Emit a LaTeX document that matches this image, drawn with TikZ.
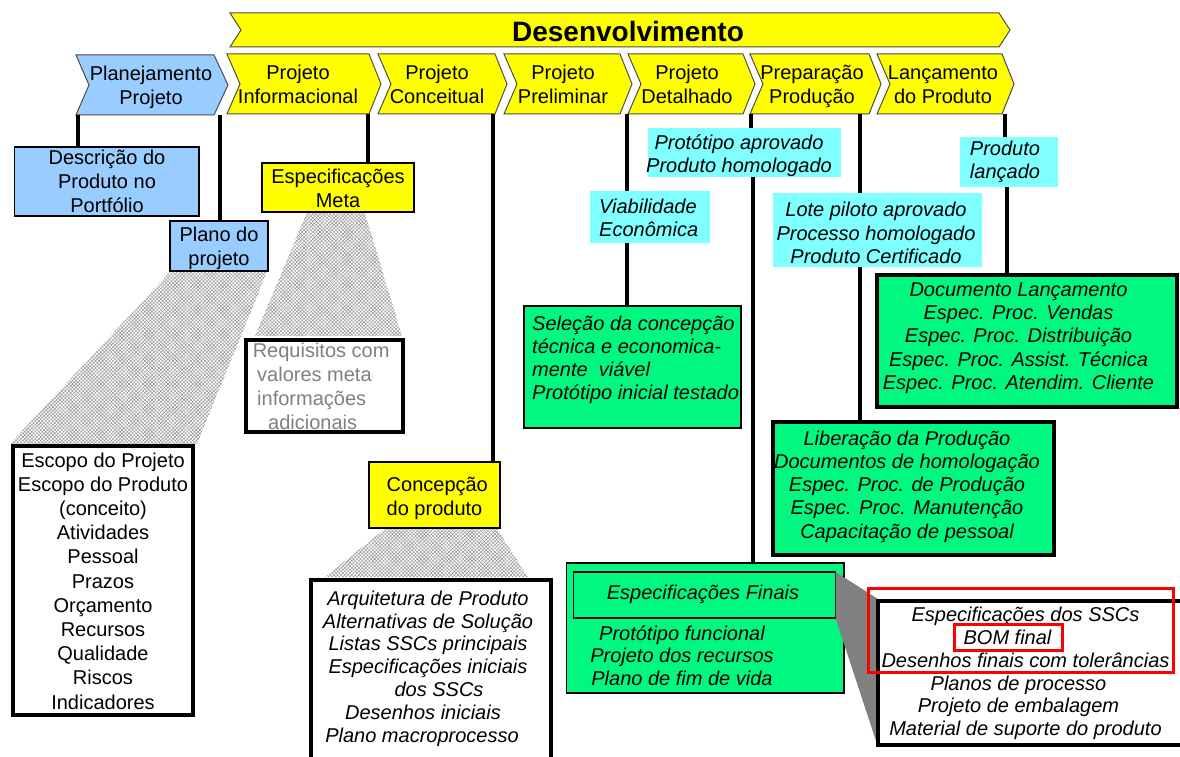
\documentclass[tikz,border=0pt]{standalone}
\usepackage{fontspec}
\setmainfont{Liberation Sans}
\usetikzlibrary{patterns.meta}
\definecolor{phaseblue}{HTML}{99CCFF}
\definecolor{phaseyellow}{HTML}{FFFF00}
\definecolor{gatecyan}{HTML}{7FFFFF}
\definecolor{outgreen}{HTML}{00F880}
\definecolor{reqgray}{HTML}{808080}
\definecolor{fangray}{HTML}{808080}
\newcommand\padright[1]{\rule{#1}{0pt}}
\begin{document}
\begin{tikzpicture}[x=1pt,y=-1pt,
  chev/.style={draw=black!70,line width=1pt,line join=miter},
  chevtxt/.style={font=\fontsize{20}{24.5}\selectfont,align=center,inner sep=0pt},
  box/.style={anchor=north west,inner sep=0pt,outer sep=0pt},
  thinbox/.style={box,draw=black,line width=1.5pt},
  thickbox/.style={box,draw=black,line width=4pt},
  gate/.style={box,fill=gatecyan},
  conn/.style={line width=4pt},
  txt/.style={font=\fontsize{20}{24}\selectfont,align=center,inner sep=0pt},
  itxt/.style={font=\fontsize{20}{23.2}\selectfont\itshape,align=center,inner sep=0pt},
  hatchfan/.style={pattern={Hatch[angle=45,distance=2.5pt,line width=0.45pt]},pattern color=black!42},
  redmark/.style={box,draw=red,line width=3pt},
]
\useasboundingbox (0,0) rectangle (1180,757);
\fill[white] (0,0) rectangle (1180,757);

% ---- development banner ----
\filldraw[chev,fill=phaseyellow] (230,13) -- (999,13) -- (1010,30) -- (999,47) -- (230,47) -- (241,30) -- cycle;
\node[font=\fontsize{28}{30}\selectfont\bfseries,inner sep=0pt] (devt) at (628,31) {Desenvolvimento};

% ---- phase chevrons ----
\filldraw[chev,fill=phaseblue] (76,55) -- (214,55) -- (228,85) -- (214,115) -- (76,115) -- (89,85) -- cycle;
\node[chevtxt] (plan) at (151,87.5) {Planejamento\\Projeto};
\filldraw[chev,fill=phaseyellow] (227,54) -- (369,54) -- (381,84) -- (369,114) -- (227,114) -- (240,84) -- cycle;
\node[chevtxt] (info) at (298,84.5) {Projeto\\Informacional};
\filldraw[chev,fill=phaseyellow] (378,54) -- (495,54) -- (507,84) -- (495,114) -- (378,114) -- (391,84) -- cycle;
\node[chevtxt] (conc) at (437,84.5) {Projeto\\Conceitual};
\filldraw[chev,fill=phaseyellow] (504,54) -- (620,54) -- (632,84) -- (620,114) -- (504,114) -- (517,84) -- cycle;
\node[chevtxt] (prel) at (563,84.5) {Projeto\\Preliminar};
\filldraw[chev,fill=phaseyellow] (628,54) -- (743,54) -- (755,84) -- (743,114) -- (628,114) -- (641,84) -- cycle;
\node[chevtxt] (det) at (687,84.5) {Projeto\\Detalhado};
\filldraw[chev,fill=phaseyellow] (750,54) -- (869,54) -- (881,84) -- (869,114) -- (750,114) -- (763,84) -- cycle;
\node[chevtxt] (prep) at (812,86.5) {Preparação\\Produção};
\filldraw[chev,fill=phaseyellow] (877,54) -- (1002,54) -- (1014,84) -- (1002,114) -- (877,114) -- (890,84) -- cycle;
\node[chevtxt] (lanc) at (943,84.5) {Lançamento\\do Produto};
% bottom edges of the chevron row
\coordinate (planbase) at (0,115);
\coordinate (rowbase) at (0,114);

% ---- hatched expansion fans ----
\fill[hatchfan] (170,272) -- (267,272) -- (197,444) -- (10,444) -- cycle;
\fill[hatchfan] (306.7,213) -- (365,213) -- (402,336) -- (255,336) -- cycle;
\fill[hatchfan] (385,529) -- (497,529) -- (528,577) -- (325,577) -- cycle;

% ---- connector columns ----
\coordinate (k1) at (78,0);
\coordinate (k2) at (219.5,0);
\coordinate (k3) at (368,0);
\coordinate (k4) at (492.5,0);
\coordinate (k5) at (626.5,0);
\coordinate (k6a) at (751,0);
\coordinate (k6b) at (753,0);
\coordinate (k7) at (860,0);
\coordinate (k8a) at (1005,0);
\coordinate (k8b) at (1006.5,0);

% ---- boxes ----
\node[thinbox,fill=phaseblue,minimum width=184.5pt,minimum height=69pt] (descr) at (14.5,147) {};
\node[thinbox,fill=phaseblue,minimum width=98pt,minimum height=50pt] (plano) at (170,221) {};
\node[thinbox,fill=phaseyellow,minimum width=152pt,minimum height=49pt] (espmeta) at (262,163) {};
\node[thickbox,fill=white,minimum width=157pt,minimum height=92pt] (req) at (246,340) {};
\node[thickbox,fill=white,minimum width=180pt,minimum height=269pt] (escopo) at (12.7,446) {};
\node[thinbox,fill=phaseyellow,minimum width=131pt,minimum height=66pt] (concep) at (369,462) {};
\node[thickbox,fill=white,minimum width=240pt,minimum height=200pt] (arq) at (311,580) {};
\node[thinbox,fill=outgreen,minimum width=217pt,minimum height=122pt] (selec) at (524,306) {};
\node[gate,minimum width=120.4pt,minimum height=52pt] (viab) at (589.6,191) {};
\node[gate,minimum width=193pt,minimum height=49pt] (proto) at (648,128) {};
\node[gate,minimum width=209pt,minimum height=74pt] (lote) at (773,193) {};
\node[gate,minimum width=98pt,minimum height=50pt] (lancg) at (960,137) {};
\node[thickbox,fill=outgreen,minimum width=300pt,minimum height=132pt] (docl) at (877,275) {};
\node[thickbox,fill=outgreen,minimum width=281pt,minimum height=133pt] (liber) at (772.6,422) {};
\node[thinbox,fill=outgreen,minimum width=277.5pt,minimum height=130pt] (espfin) at (566.5,563) {};
\node[thinbox,minimum width=262pt,minimum height=46pt] (espfinin) at (573.5,572) {};

% gray fan from the final specifications to their detail list
\fill[fangray] (espfinin.north east) -- (878,599) -- (878,747) -- (espfinin.south east) -- cycle;
\node[thickbox,fill=white,minimum width=320pt,minimum height=144pt] (final) at (878,601) {};

% ---- connectors ----
\draw[conn] (planbase -| k1) -- (descr.north -| k1);
\draw[conn] (planbase -| k2) -- (plano.north -| k2);
\draw[conn] (rowbase -| k3) -- (espmeta.north -| k3);
\draw[conn] (rowbase -| k4) -- (concep.north -| k4);
\draw[conn] (rowbase -| k5) -- (viab.north -| k5);
\draw[conn] (viab.south -| k5) -- (selec.north -| k5);
\draw[conn] (rowbase -| k6a) -- (proto.north -| k6a);
\draw[conn] (proto.south -| k6b) -- (espfin.north -| k6b);
\draw[conn] (rowbase -| k7) -- (lote.north -| k7);
\draw[conn] (lote.south -| k7) -- (liber.north -| k7);
\draw[conn] (rowbase -| k8a) -- (lancg.north -| k8a);
\draw[conn] (lancg.south -| k8b) -- (docl.north -| k8b);

% ---- texts ----
\node[txt] (descr-t) at (107,181) {Descrição do\\Produto no\\Portfólio};
\node[txt] (plano-t) at (219,248) {Plano do\\projeto};
\node[txt] (espmeta-t) at (338,188) {Especificações\\Meta};
\node[txt,align=left,anchor=west,text=reqgray] (req-t) at (252.6,386)
  {Requisitos com\\\hspace*{4.4pt}valores meta\\\hspace*{4.4pt}informações\\\hspace*{15.4pt}adicionais};
\node[txt,font=\fontsize{20}{24.2}\selectfont] (escopo-t) at (103,581)
  {Escopo do Projeto\\Escopo do Produto\\(conceito)\\Atividades\\Pessoal\\Prazos\\Orçamento\\Recursos\\Qualidade\\Riscos\\Indicadores};
\node[txt,align=left,anchor=west] (concep-t) at (386.5,498.5) {Concepção\\do produto};
\node[itxt,font=\fontsize{20}{22.8}\selectfont\itshape] (arq-t) at (428,668.5)
  {Arquitetura de Produto\\Alternativas de Solução\\Listas SSCs principais\\Especificações iniciais\\\hspace*{22pt}dos SSCs\\Desenhos iniciais\padright{10pt}\\Plano macroprocesso\padright{12pt}};
\node[itxt,align=left,anchor=west] (selec-t) at (532,360)
  {Seleção da concepção\\técnica e economica-\\mente~~viável\\Protótipo inicial testado};
\node[itxt,align=left,anchor=west] (viab-t) at (599,218) {Viabilidade\\Econômica};
\node[itxt] (proto-t) at (739,155.5) {Protótipo aprovado\\Produto homologado};
\node[itxt] (lote-t) at (876,233) {Lote piloto aprovado\\Processo homologado\\Produto Certificado};
\node[itxt] (lancg-t) at (1005,162) {Produto\\lançado};
\node[itxt] (docl-t) at (1018.5,338)
  {Documento Lançamento\\Espec. Proc. Vendas\\Espec. Proc. Distribuição\\Espec. Proc. Assist. Técnica\\Espec. Proc. Atendim. Cliente};
\node[itxt] (liber-t) at (907,486.5)
  {Liberação da Produção\\Documentos de homologação\\Espec. Proc. de Produção\\Espec. Proc. Manutenção\\Capacitação de pessoal};
\node[itxt] (espfinin-t) at (703,594.5) {Especificações Finais};
\node[itxt,font=\fontsize{20}{22.5}\selectfont\itshape] (espfin-t) at (682,655.5)
  {Protótipo funcional\\Projeto dos recursos\\Plano de fim de vida};
\node[itxt,font=\fontsize{20}{22.7}\selectfont\itshape] (final-t) at (1025.5,673.5)
  {Especificações dos SSCs\\BOM final\padright{36pt}\\Desenhos finais com tolerâncias\\Planos de processo\padright{14pt}\\Projeto de embalagem\padright{14pt}\\Material de suporte do produto};

% ---- highlight marks ----
\node[redmark,minimum width=305pt,minimum height=84pt] (redA) at (868,588) {};
\node[redmark,minimum width=108pt,minimum height=26pt] (redB) at (954,624) {};
\end{tikzpicture}
\end{document}
